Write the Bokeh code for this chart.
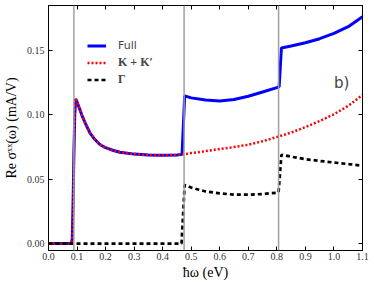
from bokeh.plotting import figure
from bokeh.models import (Range1d, FixedTicker, PrintfTickFormatter, LinearAxis,
                          Legend, LegendItem, Span, Label, CustomLabelingPolicy)
from bokeh.embed import file_html
from bokeh.resources import INLINE

# ---- data ----
omega_full = [0.000, 0.080, 0.083, 0.086, 0.089, 0.092, 0.095, 0.100, 0.110, 0.120,
              0.130, 0.145, 0.160, 0.180, 0.200, 0.225, 0.250, 0.300, 0.350, 0.400,
              0.450, 0.468, 0.477, 0.500, 0.550, 0.600, 0.650, 0.700, 0.750, 0.800,
              0.808, 0.816, 0.850, 0.900, 0.950, 1.000, 1.050, 1.100]
sigma_full = [0.0, 0.0, 0.003, 0.030, 0.070, 0.100, 0.1125, 0.110, 0.104, 0.098,
              0.093, 0.086, 0.0815, 0.077, 0.0745, 0.0725, 0.0710, 0.0695, 0.0688, 0.0686,
              0.0689, 0.0693, 0.1148, 0.1132, 0.1115, 0.1108, 0.1120, 0.1145, 0.1178, 0.1212,
              0.1220, 0.1520, 0.1535, 0.1560, 0.1592, 0.1633, 0.1685, 0.1762]

omega_k = [0.000, 0.080, 0.083, 0.086, 0.089, 0.092, 0.095, 0.100, 0.110, 0.120,
           0.130, 0.145, 0.160, 0.180, 0.200, 0.225, 0.250, 0.300, 0.350, 0.400,
           0.450, 0.475, 0.500, 0.550, 0.600, 0.650, 0.700, 0.750, 0.800, 0.850,
           0.900, 0.950, 1.000, 1.050, 1.100]
sigma_k = [0.0, 0.0, 0.003, 0.030, 0.070, 0.100, 0.1125, 0.110, 0.104, 0.098,
           0.093, 0.086, 0.0815, 0.077, 0.0745, 0.0725, 0.0710, 0.0695, 0.0688, 0.0686,
           0.0689, 0.0694, 0.0703, 0.0718, 0.0735, 0.0750, 0.0768, 0.0795, 0.0828, 0.0862,
           0.0905, 0.0952, 0.1005, 0.1070, 0.1155]

omega_g = [0.000, 0.466, 0.477, 0.500, 0.550, 0.600, 0.650, 0.700, 0.750, 0.800,
           0.806, 0.816, 0.850, 0.900, 0.950, 1.000, 1.050, 1.100]
sigma_g = [0.0, 0.0, 0.0455, 0.0435, 0.0405, 0.0390, 0.0380, 0.0380, 0.0385, 0.0395,
           0.0400, 0.0690, 0.0675, 0.0656, 0.0642, 0.0630, 0.0618, 0.0605]

thresholds = [0.089, 0.475, 0.806]
x_ticks = [0.0, 0.1, 0.2, 0.3, 0.4, 0.5, 0.6, 0.7, 0.8, 0.9, 1.0, 1.1]
y_ticks = [0.00, 0.05, 0.10, 0.15]

SERIF = "Liberation Serif"

p = figure(width=374, height=287, output_backend="svg", toolbar_location=None,
           x_range=Range1d(0.0, 1.1), y_range=Range1d(-0.0054, 0.185),
           min_border_left=45, min_border_right=12, min_border_top=5, min_border_bottom=37)
p.grid.visible = False
p.outline_line_color = "black"
p.outline_line_width = 1
p.background_fill_color = "white"
p.border_fill_color = "white"

for a in (p.xaxis[0], p.yaxis[0]):
    a.major_tick_in = 4
    a.major_tick_out = 0
    a.minor_tick_line_color = None
    a.axis_line_color = "black"
    a.major_tick_line_color = "black"
    a.major_label_text_font = SERIF
    a.major_label_text_font_size = "10px"
    a.major_label_text_color = "#333333"
    a.axis_label_text_font = SERIF
    a.axis_label_text_font_size = "14px"
    a.axis_label_text_font_style = "normal"
    a.axis_label_text_color = "black"

p.xaxis[0].ticker = FixedTicker(ticks=x_ticks)
p.xaxis[0].formatter = PrintfTickFormatter(format="%.1f")
p.xaxis[0].major_label_standoff = 2
p.xaxis[0].axis_label = "ħω (eV)"
p.xaxis[0].axis_label_standoff = 2

p.yaxis[0].ticker = FixedTicker(ticks=y_ticks)
p.yaxis[0].formatter = PrintfTickFormatter(format="%.2f")
p.yaxis[0].major_label_standoff = 4
p.yaxis[0].axis_label = "Re σˣˣ(ω) (mA/V)"
p.yaxis[0].axis_label_standoff = 5

# mirrored inward ticks on top and right (no labels)
hide_js = "try { return new indices.constructor(indices.size, 0) } catch (e) { return indices }"
top = LinearAxis(ticker=FixedTicker(ticks=x_ticks), major_tick_in=4, major_tick_out=0,
                 minor_tick_line_color=None, major_label_text_font_size="0px",
                 major_label_standoff=0, axis_line_color="black",
                 major_label_policy=CustomLabelingPolicy(code=hide_js))
right = LinearAxis(ticker=FixedTicker(ticks=y_ticks), major_tick_in=4, major_tick_out=0,
                   minor_tick_line_color=None, major_label_text_font_size="0px",
                   major_label_standoff=0, axis_line_color="black",
                   major_label_policy=CustomLabelingPolicy(code=hide_js))
p.add_layout(top, "above")
p.add_layout(right, "right")

for t in thresholds:
    p.add_layout(Span(location=t, dimension="height", line_color="#a0a0a0", line_width=1.5))

r_full = p.line(omega_full, sigma_full, line_color="#0000ff", line_width=3)
r_k = p.line(omega_k, sigma_k, line_color="#ff0000", line_width=2.5, line_dash="2 2")
r_g = p.line(omega_g, sigma_g, line_color="black", line_width=2.7, line_dash="4 3")

leg1 = Legend(items=[LegendItem(label="Full", renderers=[r_full])],
              location=(39, 196), orientation="vertical",
              label_text_font="DejaVu Sans", label_text_font_size="11px",
              glyph_width=19, glyph_height=17, label_height=17, label_standoff=12,
              padding=0, margin=0, spacing=0, border_line_color=None,
              background_fill_alpha=0)
leg2 = Legend(items=[LegendItem(label="K + K′", renderers=[r_k]),
                     LegendItem(label="Γ", renderers=[r_g])],
              location=(39, 162), orientation="vertical",
              label_text_font=SERIF, label_text_font_size="12px",
              label_text_font_style="bold",
              glyph_width=19, glyph_height=17, label_height=17, label_standoff=12,
              padding=0, margin=0, spacing=0, border_line_color=None,
              background_fill_alpha=0)
p.add_layout(leg1, "center")
p.add_layout(leg2, "center")

p.add_layout(Label(x=1.0, y=0.125, text="b)", text_font="DejaVu Sans",
                   text_font_size="15px", text_baseline="middle", text_align="left"))

open("out.html", "w").write(file_html(p, INLINE))
